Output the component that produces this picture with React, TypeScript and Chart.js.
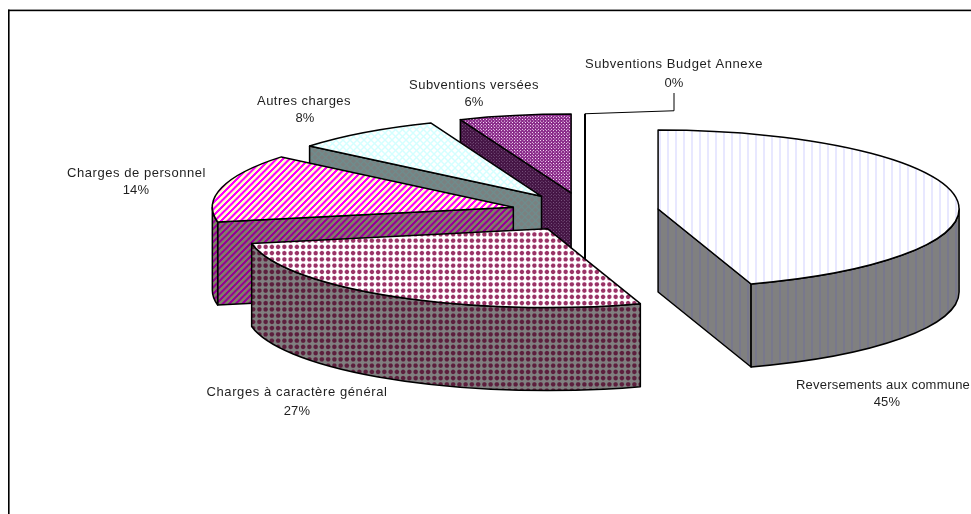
import React, { useEffect, useRef } from "react";
import { Chart, registerables } from "chart.js";

Chart.register(...registerables);

const categories = [
  "Reversements aux commune",
  "Charges à caractère général",
  "Charges de personnel",
  "Autres charges",
  "Subventions versées",
  "Subventions Budget Annexe",
];
const values = [45, 27, 14, 8, 6, 0];

// label anchors: [name x, name y, percent x, percent y, name width]
const labelAnchors = [
  [883, 385, 887, 402, 174],
  [297, 392, 297, 411, 181],
  [136.5, 173, 136, 190, 139],
  [304, 101, 305, 118, 94],
  [474, 85, 474, 102, 130],
  [674, 64, 674, 83, 178],
];

const RADIUS = 301;
const SQUASH = 0.262;
const DEPTH = 83;
const EXPLODE = 74;

type Tile = { kind: string; period: number; bg: string; fg: string; glow?: string };

const topTiles: Tile[] = [
  { kind: "columns", period: 8, bg: "#ffffff", fg: "#e8e8ff" },
  { kind: "dots", period: 6.25, bg: "#ffffff", fg: "#993366", glow: "#d8a8c0" },
  { kind: "stripes", period: 6.5, bg: "#ffffcc", fg: "#ff00ff" },
  { kind: "lattice", period: 7, bg: "#ffffff", fg: "#d4ffff" },
  { kind: "pin", period: 3.25, bg: "#8a2c8a", fg: "#f6dcf6" },
];
const sideTiles: Tile[] = [
  { kind: "columns", period: 8, bg: "#808080", fg: "#78788c" },
  { kind: "dots", period: 6.25, bg: "#808080", fg: "#5c1f3d", glow: "#70505f" },
  { kind: "stripes", period: 6.5, bg: "#808066", fg: "#990099" },
  { kind: "lattice", period: 7, bg: "#7b8080", fg: "#6f8c8c" },
  { kind: "pin", period: 3.25, bg: "#451545", fg: "#75507a" },
];

function makePattern(ctx: CanvasRenderingContext2D, t: Tile) {
  const s = 4;
  const size = Math.round(t.period * s);
  const c = document.createElement("canvas");
  c.width = size;
  c.height = size;
  const g = c.getContext("2d")!;
  g.fillStyle = t.bg;
  g.fillRect(0, 0, size, size);
  g.fillStyle = t.fg;
  g.strokeStyle = t.fg;
  if (t.kind === "dots") {
    if (t.glow) {
      g.fillStyle = t.glow;
      g.beginPath();
      g.arc(size / 2, size / 2, size * 0.41, 0, Math.PI * 2);
      g.fill();
    }
    g.fillStyle = t.fg;
    g.beginPath();
    g.arc(size / 2, size / 2, size * 0.31, 0, Math.PI * 2);
    g.fill();
  } else if (t.kind === "pin") {
    g.fillRect(size * 0.1, size * 0.1, size * 0.3, size * 0.3);
    g.fillRect(size * 0.6, size * 0.6, size * 0.3, size * 0.3);
  } else if (t.kind === "columns") {
    g.fillRect(size * 0.35, 0, size * 0.3, size);
  } else if (t.kind === "stripes") {
    g.lineWidth = size * 0.32;
    for (const o of [-size, 0, size]) {
      g.beginPath();
      g.moveTo(o - size, 2 * size);
      g.lineTo(o + 2 * size, -size);
      g.stroke();
    }
  } else {
    g.lineWidth = size * 0.2;
    for (const o of [-size, 0, size]) {
      g.beginPath();
      g.moveTo(o - size, 2 * size);
      g.lineTo(o + 2 * size, -size);
      g.stroke();
      g.beginPath();
      g.moveTo(o - size, -size);
      g.lineTo(o + 2 * size, 2 * size);
      g.stroke();
    }
  }
  const p = ctx.createPattern(c, "repeat")!;
  p.setTransform(new DOMMatrix().scale(1 / s, 1 / s));
  return p;
}

export default function App() {
  const ref = useRef<HTMLCanvasElement>(null);
  useEffect(() => {
    const canvas = ref.current!;
    const ctx = canvas.getContext("2d")!;
    const tops = topTiles.map((t) => makePattern(ctx, t));
    const sides = sideTiles.map((t) => makePattern(ctx, t));

    const pie3d = {
      id: "pie3d",
      beforeDatasetDraw(chart: any) {
        const c = chart.ctx as CanvasRenderingContext2D;
        const arcs = chart.getDatasetMeta(0).data as any[];
        const total = values.reduce((a, b) => a + b, 0);
        c.save();
        c.lineJoin = "round";
        c.strokeStyle = "#000000";
        c.lineWidth = 1.5;
        const ry = RADIUS * SQUASH;
        for (let i = arcs.length - 1; i >= 0; i--) {
          const arc = arcs[i];
          const { x, y, startAngle: a, endAngle: b, outerRadius: r } = arc.getProps(
            ["x", "y", "startAngle", "endAngle", "outerRadius"],
            true
          );
          const mid = (a + b) / 2;
          const off = arc.options.offset;
          const ax = x + off * Math.cos(mid);
          const ay = y + off * Math.sin(mid) * SQUASH;
          const ryy = r * SQUASH;
          const fillTop = arc.options.backgroundColor;
          const fillSide = sides[i] || "#ffffff";
          const rim = (t: number) => [ax + r * Math.cos(t), ay + ryy * Math.sin(t)];
          const face = (t: number) => {
            const [px, py] = rim(t);
            c.beginPath();
            c.moveTo(ax, ay);
            c.lineTo(px, py);
            c.lineTo(px, py + DEPTH);
            c.lineTo(ax, ay + DEPTH);
            c.closePath();
            c.fillStyle = fillSide;
            c.fill();
            c.stroke();
          };
          if (b - a < 1e-6) {
            c.lineWidth = 2;
            const [px, py] = rim(a);
            c.beginPath();
            c.moveTo(px, py);
            c.lineTo(ax, ay + DEPTH);
            c.stroke();
            c.lineWidth = 1.5;
            continue;
          }
          if (Math.cos(a) < -1e-6) face(a);
          if (Math.cos(b) > 1e-6) face(b);
          const lo = Math.max(a, 0);
          const hi = Math.min(b, Math.PI);
          if (hi > lo) {
            c.beginPath();
            c.ellipse(ax, ay, r, ryy, 0, lo, hi);
            c.ellipse(ax, ay + DEPTH, r, ryy, 0, hi, lo, true);
            c.closePath();
            c.fillStyle = fillSide;
            c.fill();
            c.stroke();
          }
          c.beginPath();
          c.moveTo(ax, ay);
          c.ellipse(ax, ay, r, ryy, 0, a, b);
          c.closePath();
          c.fillStyle = fillTop;
          c.fill();
          c.stroke();
        }

        // leader line of the empty slice
        const z = arcs[arcs.length - 1];
        const zm = z.startAngle;
        const zx = z.x + z.options.offset * Math.cos(zm);
        const zy = z.y + z.options.offset * Math.sin(zm) * SQUASH - ry;
        const la = labelAnchors[arcs.length - 1];
        c.lineWidth = 1;
        c.beginPath();
        c.moveTo(zx, zy);
        c.lineTo(la[0], zy - 3);
        c.lineTo(la[0], la[3] + 10);
        c.stroke();

        // labels
        c.fillStyle = "#1f1f1f";
        c.font = '13px "Liberation Sans"';
        c.textAlign = "center";
        c.textBaseline = "middle";
        categories.forEach((name, i) => {
          const [nx, ny, px, py, w] = labelAnchors[i];
          (c as any).letterSpacing = "0px";
          const natural = c.measureText(name).width;
          (c as any).letterSpacing = `${(w - natural) / name.length}px`;
          c.fillText(name, nx, ny);
          (c as any).letterSpacing = "0.2px";
          c.fillText(`${Math.round((values[i] / total) * 100)}%`, px, py);
        });
        (c as any).letterSpacing = "0px";

        // frame, open on the right and at the bottom
        c.fillStyle = "#000000";
        c.fillRect(8, 9.6, 963, 1.6);
        c.fillRect(8, 9.6, 1.6, 505);
        c.restore();
        return false;
      },
    };

    const chart = new Chart(canvas, {
      type: "pie",
      data: {
        labels: categories,
        datasets: [
          {
            data: values,
            backgroundColor: [...tops, "#ffffff"],
            borderWidth: 0,
            offset: EXPLODE,
          },
        ],
      },
      options: {
        responsive: false,
        animation: false,
        radius: RADIUS,
        rotation: 0,
        layout: { padding: { left: 199, bottom: 90 } },
        plugins: { legend: { display: false }, tooltip: { enabled: false } },
      } as any,
      plugins: [pie3d as any],
    });
    return () => chart.destroy();
  }, []);
  return (
    <canvas
      ref={ref}
      width={971}
      height={514}
      style={{ position: "absolute", left: 0, top: 0, display: "block", background: "#ffffff" }}
    />
  );
}
